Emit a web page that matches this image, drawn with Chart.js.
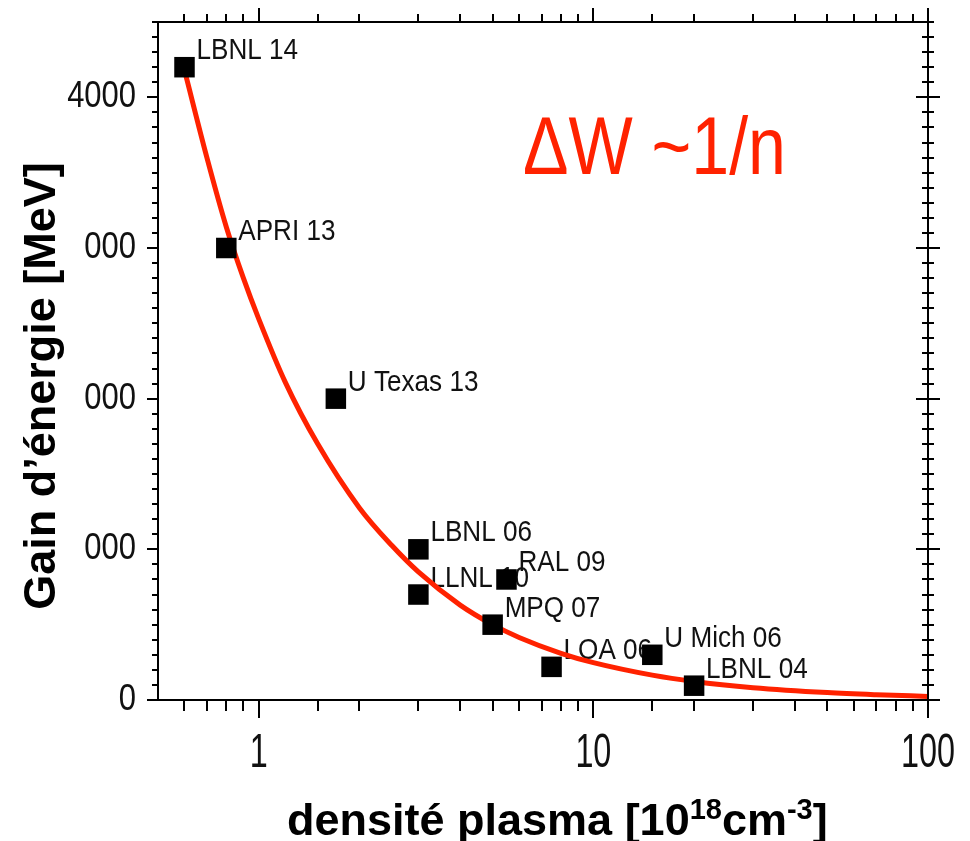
<!DOCTYPE html>
<html lang="fr">
<head>
<meta charset="UTF-8">
<title>Gain d'énergie vs densité plasma</title>
<script src="https://cdn.jsdelivr.net/npm/chart.js"></script>
<style>
  html, body { margin: 0; padding: 0; background: #fff; }
</style>
</head>
<body>
<canvas id="grafico" width="970" height="841"></canvas>

<script>
    // mesures : densité [1e18 cm-3] et gain [MeV]
    var experiences = ['LBNL 14', 'APRI 13', 'U Texas 13', 'LBNL 06', 'LLNL 10', 'RAL 09', 'MPQ 07', 'LOA 06', 'U Mich 06', 'LBNL 04']
    var densites = [0.6, 0.8, 1.7, 3, 3, 5.5, 5, 7.5, 15, 20]
    var gains = [4200, 3000, 2000, 1000, 700, 800, 500, 220, 300, 95]

    // courbe rouge
    var courbeX = [0.6, 0.7, 0.8, 0.9, 1, 1.2, 1.5, 2, 2.5, 3, 4, 5, 6, 8, 10, 15, 20, 30, 50, 70, 100]
    var courbeY = [4180, 3600, 3140, 2800, 2530, 2110, 1700, 1275, 1025, 850, 630, 500, 415, 310, 248, 165, 123, 82, 49, 35, 24]

    // graduations avec texte
    var yLabels = [0, 1000, 2000, 3000, 4000]
    var xLabels = [1, 10, 100]

    var rouge = '#ff2200'
    var police = '"Liberation Sans", Arial, sans-serif'

    function texteEtroit(ctx, txt, x, y, sx, align) {
        ctx.save()
        ctx.translate(x, y)
        ctx.scale(sx, 1)
        ctx.textAlign = align
        ctx.fillText(txt, 0, 0)
        ctx.restore()
    }

    const decor = {
        id: 'decor',
        beforeDatasetsDraw(chart) {
            const ctx = chart.ctx
            const xs = chart.scales.x
            const ys = chart.scales.y
            ctx.save()
            ctx.fillStyle = '#111'
            ctx.font = '30px ' + police
            ctx.textBaseline = 'alphabetic'
            experiences.forEach(function (nom, i) {
                texteEtroit(ctx, nom, xs.getPixelForValue(densites[i]) + 12, ys.getPixelForValue(gains[i]) - 8, 0.87, 'left')
            })
            ctx.fillStyle = rouge
            ctx.font = '82px ' + police
            texteEtroit(ctx, 'ΔW ~1/n', 523, 174, 0.83, 'left')
            ctx.restore()
        },
        afterDraw(chart) {
            const ctx = chart.ctx
            const xs = chart.scales.x
            const ys = chart.scales.y
            const a = chart.chartArea
            ctx.save()
            ctx.strokeStyle = '#000'
            ctx.lineWidth = 2
            ctx.strokeRect(a.left, a.top, a.right - a.left, a.bottom - a.top)

            // graduations
            ctx.beginPath()
            ys.ticks.forEach(function (t) {
                const py = Math.round(ys.getPixelForValue(t.value))
                const maj = t.value % 1000 === 0
                ctx.moveTo(a.left - (maj ? 11 : 6), py)
                ctx.lineTo(a.left, py)
                ctx.moveTo(a.right - (maj ? 12 : 6), py)
                ctx.lineTo(a.right + (maj ? 12 : 6), py)
            })
            xs.ticks.forEach(function (t) {
                if (t.value <= xs.min) return
                const px = Math.round(xs.getPixelForValue(t.value))
                const maj = xLabels.includes(t.value)
                ctx.moveTo(px, a.bottom)
                ctx.lineTo(px, a.bottom + (maj ? 18 : 11))
                ctx.moveTo(px, a.top)
                ctx.lineTo(px, a.top - (maj ? 14 : 8))
            })
            ctx.stroke()

            // textes des graduations
            ctx.fillStyle = '#111'
            ctx.textBaseline = 'middle'
            ctx.font = '36px ' + police
            ys.ticks.forEach(function (t) {
                if (!yLabels.includes(t.value)) return
                texteEtroit(ctx, String(t.value), 136, ys.getPixelForValue(t.value), 0.86, 'right')
            })
            ctx.textBaseline = 'alphabetic'
            ctx.font = '49px ' + police
            xs.ticks.forEach(function (t) {
                if (!xLabels.includes(t.value)) return
                texteEtroit(ctx, String(t.value), xs.getPixelForValue(t.value), 767, 0.66, 'center')
            })

            // titre axe y (boite blanche)
            ctx.fillStyle = '#fff'
            ctx.fillRect(0, 150, 84, 472)
            ctx.save()
            ctx.translate(55, 386)
            ctx.rotate(-Math.PI / 2)
            ctx.fillStyle = '#000'
            ctx.font = 'bold 45px ' + police
            ctx.textAlign = 'center'
            ctx.fillText('Gain d’énergie [MeV]', 0, 0)
            ctx.restore()

            // titre axe x avec exposants
            ctx.fillStyle = '#000'
            ctx.textAlign = 'left'
            var morceaux = [['densité plasma [10', false], ['18', true], ['cm', false], ['-3', true], [']', false]]
            var x = 287
            morceaux.forEach(function (m) {
                ctx.font = m[1] ? 'bold 29px ' + police : 'bold 45px ' + police
                ctx.fillText(m[0], x, m[1] ? 819 : 835)
                x += ctx.measureText(m[0]).width
            })
            ctx.restore()
        }
    }

    let dadosCourbe = courbeX.map(function (v, i) { return { x: v, y: courbeY[i] } })
    let dadosPoints = densites.map(function (v, i) { return { x: v, y: gains[i] } })

    new Chart(document.getElementById('grafico'), {
        type: 'scatter',
        data: {
            datasets: [{
                label: 'ΔW ~1/n',
                data: dadosCourbe,
                showLine: true,
                borderColor: rouge,
                borderWidth: 5,
                pointRadius: 0,
                cubicInterpolationMode: 'monotone',
                order: 2
            }, {
                label: 'expériences',
                data: dadosPoints,
                pointStyle: 'rect',
                pointRadius: 14.5,
                backgroundColor: '#000',
                borderColor: '#000',
                borderWidth: 0,
                order: 1
            }]
        },
        options: {
            responsive: false,
            animation: false,
            devicePixelRatio: 1,
            layout: { padding: { top: 22, right: 42, left: 0, bottom: 0 } },
            plugins: { legend: { display: false }, tooltip: { enabled: false } },
            scales: {
                x: {
                    type: 'logarithmic',
                    min: 0.5,
                    max: 100,
                    ticks: { display: false, autoSkip: false },
                    grid: { display: false },
                    border: { display: false },
                    afterFit: function (s) { s.height = 141 }
                },
                y: {
                    min: 0,
                    max: 4500,
                    ticks: { display: false, autoSkip: false, stepSize: 100, maxTicksLimit: 100 },
                    grid: { display: false },
                    border: { display: false },
                    afterFit: function (s) { s.width = 158 }
                }
            }
        },
        plugins: [decor]
    })
</script>
</body>
</html>
